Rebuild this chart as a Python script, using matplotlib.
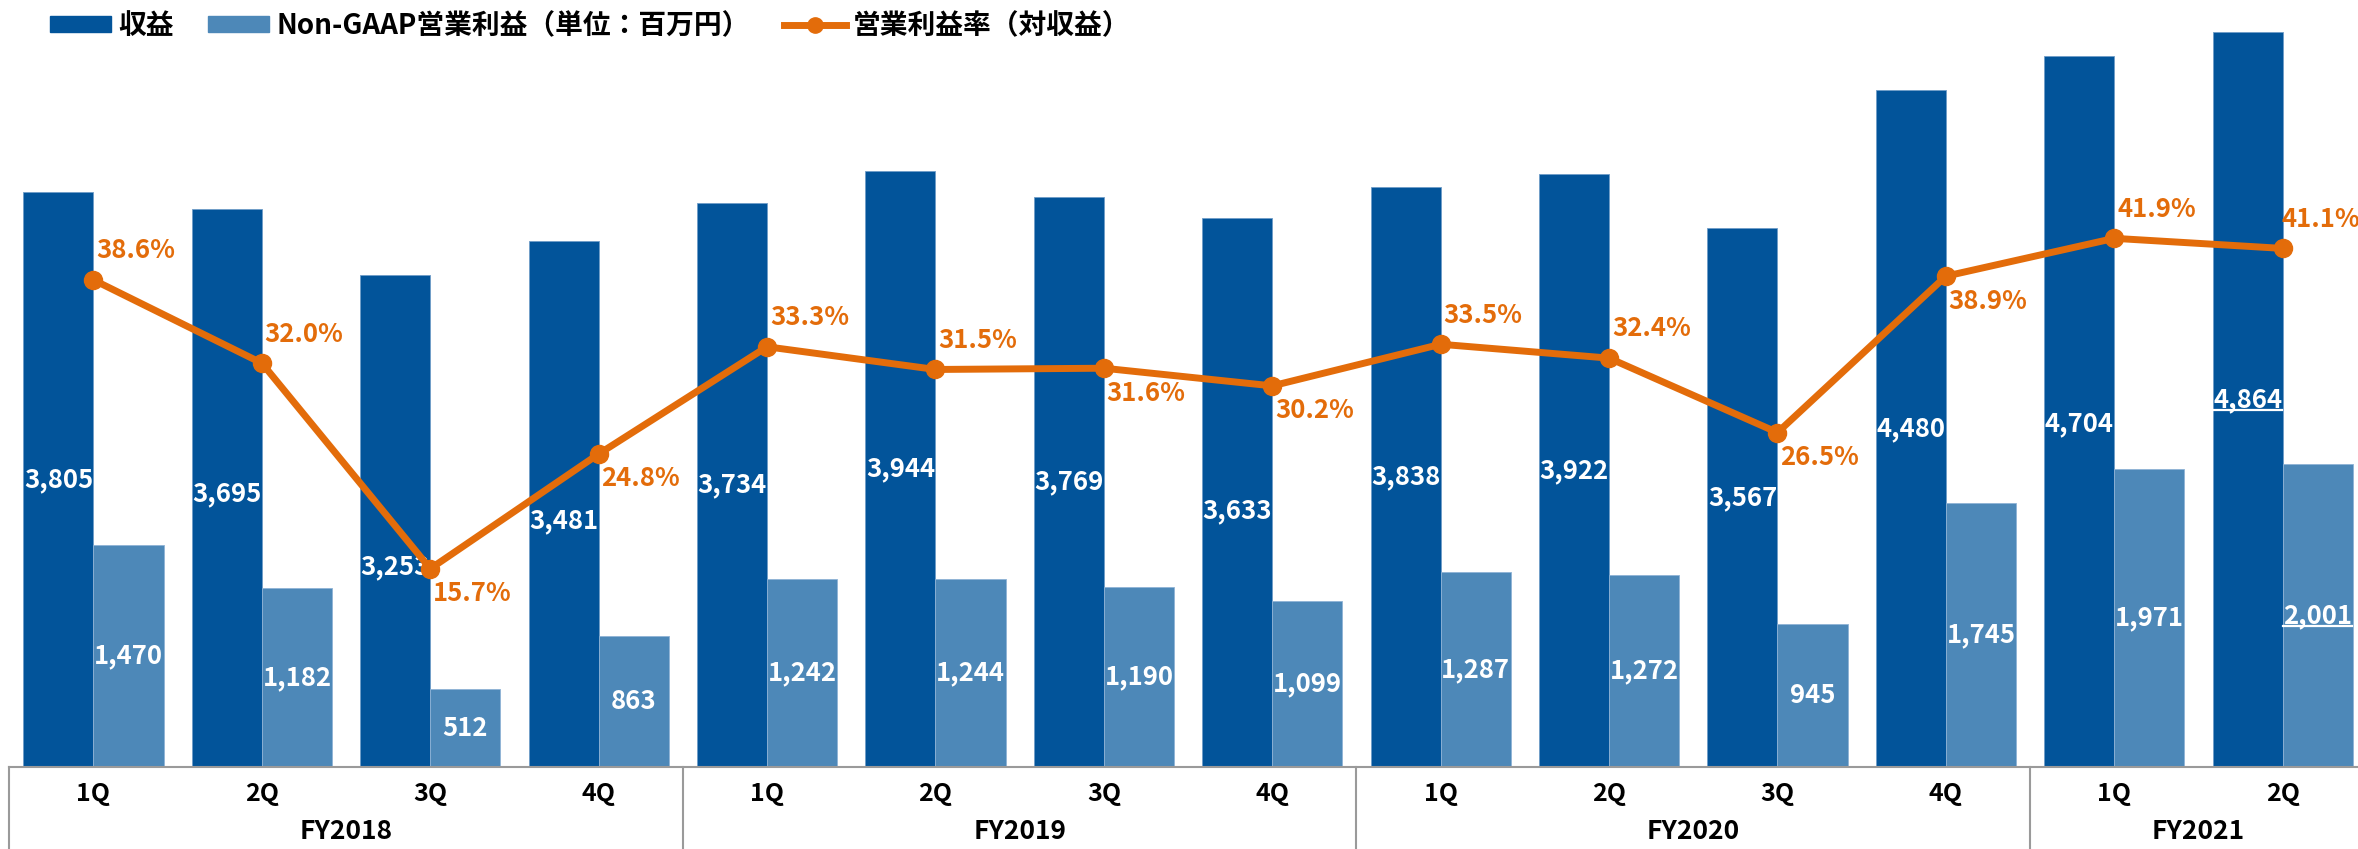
import matplotlib
matplotlib.use("Agg")
import matplotlib.pyplot as plt
from matplotlib.patches import Patch
from matplotlib.lines import Line2D
import numpy as np

plt.rcParams['font.family'] = ['Noto Sans CJK JP', 'DejaVu Sans']

quarters = ["1Q", "2Q", "3Q", "4Q", "1Q", "2Q", "3Q", "4Q",
            "1Q", "2Q", "3Q", "4Q", "1Q", "2Q"]
fiscal_years = ["FY2018", "FY2019", "FY2020", "FY2021"]
fy_counts = [4, 4, 4, 2]

revenue = [3805, 3695, 3253, 3481, 3734, 3944, 3769, 3633,
           3838, 3922, 3567, 4480, 4704, 4864]
op_income = [1470, 1182, 512, 863, 1242, 1244, 1190, 1099,
             1287, 1272, 945, 1745, 1971, 2001]
margin = [38.6, 32.0, 15.7, 24.8, 33.3, 31.5, 31.6, 30.2,
          33.5, 32.4, 26.5, 38.9, 41.9, 41.1]

# which margin labels sit under the point
below = [False, False, True, True, False, False, True, True,
         False, False, True, True, False, False]

c_rev = "#02549A"
c_op = "#4D88B8"
c_line = "#E36C0A"
c_grid = "#9A9A9A"

fig = plt.figure(figsize=(23.58, 8.49), dpi=100)
W, H = 2358, 849
base_px = 766.7
ax = fig.add_axes([9.3 / W, (H - base_px) / H, 14 * 168.4 / W, base_px / H])

x = np.arange(len(revenue))
bw = 0.416
ax.bar(x - bw / 2, revenue, bw, color=c_rev, edgecolor="#6F9CC8", linewidth=0.6)
ax.bar(x + bw / 2, op_income, bw, color=c_op, edgecolor="#8FB3D6", linewidth=0.6)
ax.set_xlim(-0.5, len(revenue) - 0.5)
ax.set_ylim(0, 5076)
ax.axis("off")

# revenue labels, some nudged down a bit like the original
nudge = {2: -300, 3: -110, 7: -120, 12: -80, 1: -40}
rev_labels = []
for i, v in enumerate(revenue):
    t = ax.text(x[i] - bw / 2, v / 2 + nudge.get(i, 0), f"{v:,}", ha="center", va="center",
                color="white", fontsize=18.5, fontweight="bold")
    rev_labels.append(t)
op_labels = []
for i, v in enumerate(op_income):
    t = ax.text(x[i] + bw / 2, v / 2, f"{v:,}", ha="center", va="center",
                color="white", fontsize=18.5, fontweight="bold")
    op_labels.append(t)

ax2 = ax.twinx()
ax2.set_ylim(0, 60.8)
ax2.axis("off")
ax2.plot(x, margin, color=c_line, linewidth=5, marker="o", markersize=13, zorder=5)
for i, m in enumerate(margin):
    dy = -18 if below[i] else 21
    dx = -1 if i == len(margin) - 1 else 2
    ax2.annotate(f"{m:.1f}%", (x[i], m), xytext=(dx, dy), textcoords="offset points",
                 ha="left", va="center", color=c_line, fontsize=18.5, fontweight="bold")

# category table under the bars
trans = ax.get_xaxis_transform()
ax.plot([-0.5, len(revenue) - 0.5], [0, 0], color=c_grid, linewidth=1.5, clip_on=False)
for i, q in enumerate(quarters):
    ax.text(x[i], -0.036, q, transform=trans, ha="center", va="center",
            fontsize=18, fontweight="bold", color="black")
start = 0
for fy, n in zip(fiscal_years, fy_counts):
    ax.plot([start - 0.5, start - 0.5], [0, -0.2], transform=trans, color=c_grid,
            linewidth=1.5, clip_on=False)
    ax.text(start + (n - 1) / 2, -0.084, fy, transform=trans, ha="center", va="center",
            fontsize=19, fontweight="bold", color="black")
    start += n

handles = [Patch(color=c_rev), Patch(color=c_op),
           Line2D([], [], color=c_line, linewidth=5, marker="o", markersize=11)]
names = ["収益", "Non-GAAP営業利益（単位：百万円）", "営業利益率（対収益）"]
fig.legend(handles, names, loc="upper left", bbox_to_anchor=(50 / W, 1 - 12 / H), ncol=3,
           frameon=False, handlelength=2.2, handleheight=0.5, borderpad=0,
           handletextpad=0.25, columnspacing=1.25, borderaxespad=0,
           prop={"weight": "bold", "size": 20})

# underline the latest quarter values
fig.canvas.draw()
r = fig.canvas.get_renderer()
inv = fig.transFigure.inverted()
for t in (rev_labels[-1], op_labels[-1]):
    bb = t.get_window_extent(r)
    yl = bb.y0 + bb.height * 0.12
    (x0, y0), (x1, _) = inv.transform([(bb.x0, yl), (bb.x1, yl)])
    fig.add_artist(Line2D([x0, x1], [y0, y0], color="white", linewidth=1.6))

fig.savefig("out.png", dpi=100)
